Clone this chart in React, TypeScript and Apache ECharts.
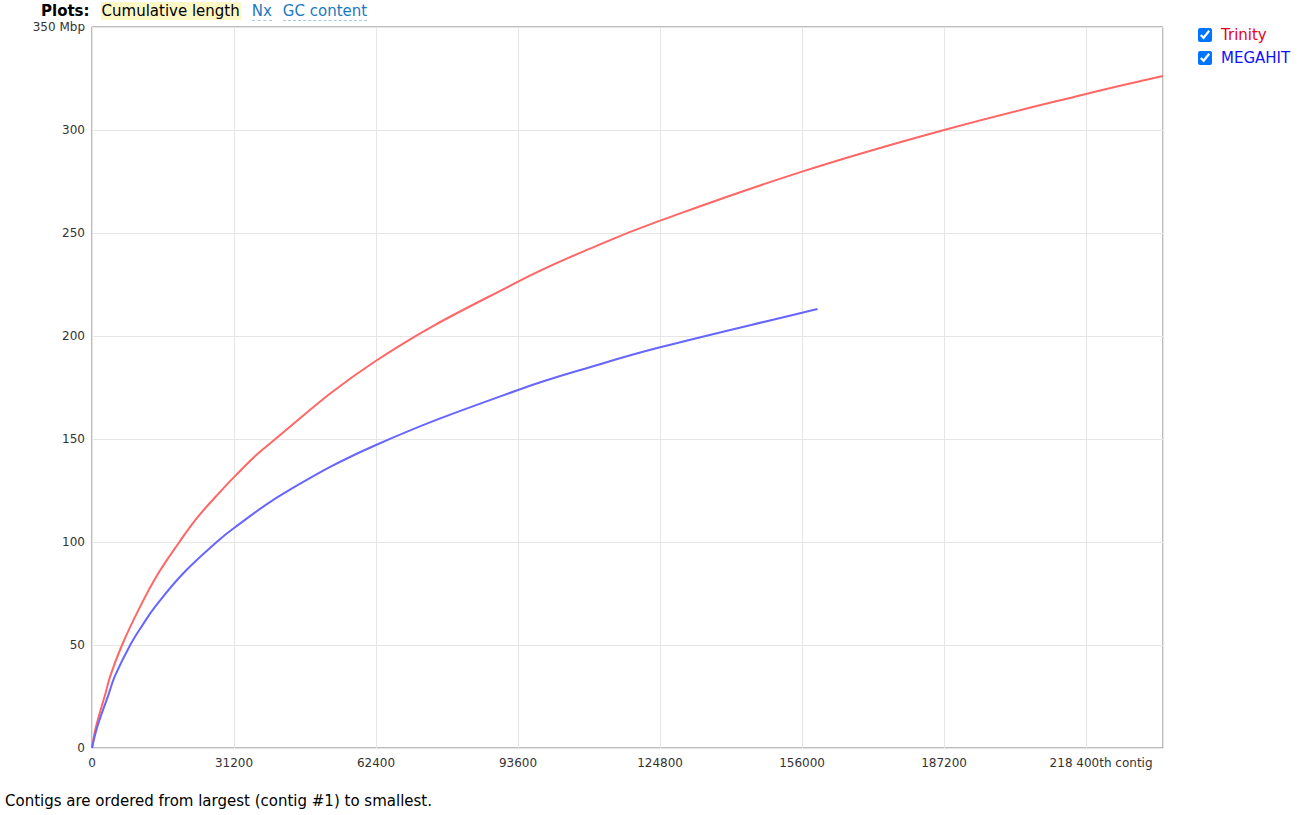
import React, { useEffect, useRef } from "react";
import * as echarts from "echarts";

// Contig index (x) and cumulative length in Mbp (y)
const trinityContigs = [0, 880, 2860, 4100, 6600, 10550, 14570, 19200, 23000, 28500, 31200, 37300, 62400, 93600, 111600, 124800, 156000, 187200, 218400, 235300];
const trinityMbp = [0, 10.3, 25.7, 35.5, 50, 68.5, 84.8, 100, 111.5, 125.2, 131.5, 144.5, 188, 226.4, 244.5, 256, 279.8, 300, 317.5, 326.2];

const megahitContigs = [0, 1170, 3590, 5050, 8400, 11200, 13840, 20060, 27400, 31200, 42400, 62400, 93600, 111600, 124800, 156000, 159400];
const megahitMbp = [0, 10.3, 25.7, 35, 50, 60, 68.5, 84.8, 100, 106.8, 124, 147.1, 173.8, 186.3, 194.5, 211.3, 213.1];

const seriesNames = ["Trinity", "MEGAHIT"];
const seriesColors = ["#ff6666", "#6666ff"];
const legendColors = ["#e8001c", "#1010ff"];

const xMax = 235300;
const xStep = 31200;
const yMax = 350;
const yStep = 50;
const lastXTick = 218400;

const plotTabs = ["Cumulative length", "Nx", "GC content"];
const caption = "Contigs are ordered from largest (contig #1) to smallest.";

const FONT = "'DejaVu Sans', Verdana, sans-serif";

export default function App() {
  const ref = useRef<HTMLDivElement>(null);

  useEffect(() => {
    if (!ref.current) return;
    const chart = echarts.init(ref.current, undefined, { renderer: "svg" });
    const zip = (xs: number[], ys: number[]) => xs.map((x, i) => [x, ys[i]]);
    chart.setOption({
      animation: false,
      backgroundColor: "#ffffff",
      textStyle: { fontFamily: FONT },
      grid: { left: 92, top: 27, width: 1071, height: 721, show: true, borderColor: "#7a7a7a", borderWidth: 1, containLabel: false },
      xAxis: {
        type: "value",
        min: 0,
        max: xMax,
        interval: xStep,
        axisLine: { show: false },
        axisTick: { show: false },
        splitLine: { show: true, lineStyle: { color: "#e6e6e6", width: 1 } },
        axisLabel: {
          color: "#333",
          fontSize: 12,
          fontFamily: FONT,
          margin: 9,
          showMaxLabel: false,
          formatter: (v: number) => (v === lastXTick ? "{last|218 400th contig}" : String(v)),
          rich: { last: { fontSize: 12, color: "#333", fontFamily: FONT, padding: [0, 0, 0, 30] } },
        },
      },
      yAxis: {
        type: "value",
        min: 0,
        max: yMax,
        interval: yStep,
        axisLine: { show: false },
        axisTick: { show: false },
        splitLine: { show: true, lineStyle: { color: "#e6e6e6", width: 1 } },
        axisLabel: {
          color: "#333",
          fontSize: 12,
          fontFamily: FONT,
          margin: 7,
          formatter: (v: number) => (v === yMax ? "350 Mbp" : String(v)),
        },
      },
      series: [
        {
          name: seriesNames[0],
          type: "line",
          data: zip(trinityContigs, trinityMbp),
          showSymbol: false,
          smooth: 0.4,
          lineStyle: { color: seriesColors[0], width: 2 },
          itemStyle: { color: seriesColors[0] },
          z: 3,
        },
        {
          name: seriesNames[1],
          type: "line",
          data: zip(megahitContigs, megahitMbp),
          showSymbol: false,
          smooth: 0.4,
          lineStyle: { color: seriesColors[1], width: 2 },
          itemStyle: { color: seriesColors[1] },
          z: 4,
        },
      ],
    });
    return () => chart.dispose();
  }, []);

  return (
    <div style={{ position: "fixed", left: 0, top: 0, width: 1302, height: 815, background: "#fff", fontFamily: FONT }}>
      <div ref={ref} style={{ position: "absolute", left: 0, top: 0, width: 1302, height: 815 }} />
      <div style={{ position: "absolute", left: 41, top: 1, fontSize: 15, lineHeight: "20px", whiteSpace: "nowrap", color: "#000" }}>
        <b style={{ marginRight: 11 }}>Plots:</b>
        <span style={{ background: "#fbf8c6", padding: "0 1px", marginRight: 11 }}>{plotTabs[0]}</span>
        <span style={{ color: "#1e78c0", borderBottom: "1px dashed #a8c8e0", marginRight: 11 }}>{plotTabs[1]}</span>
        <span style={{ color: "#1e78c0", borderBottom: "1px dashed #a8c8e0" }}>{plotTabs[2]}</span>
      </div>
      {seriesNames.map((n, i) => (
        <div key={n} style={{ position: "absolute", left: 1194, top: 25 + i * 23, fontSize: 15, lineHeight: "20px", whiteSpace: "nowrap", color: legendColors[i], display: "flex", alignItems: "center" }}>
          <input type="checkbox" defaultChecked style={{ margin: "0 9px 0 4px", width: 14, height: 14 }} />
          <span>{n}</span>
        </div>
      ))}
      <div style={{ position: "absolute", left: 5, top: 791, fontSize: 15, lineHeight: "20px", whiteSpace: "nowrap", color: "#000" }}>{caption}</div>
    </div>
  );
}
